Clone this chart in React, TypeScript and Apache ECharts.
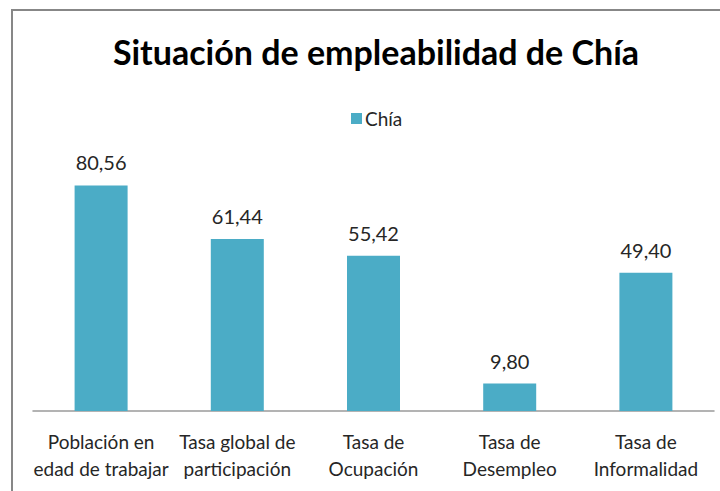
import React, { useEffect, useRef } from "react";
import * as echarts from "echarts";

const categories = [
  "Población en\nedad de trabajar",
  "Tasa global de\nparticipación",
  "Tasa de\nOcupación",
  "Tasa de\nDesempleo",
  "Tasa de\nInformalidad",
];
const values = [80.56, 61.44, 55.42, 9.8, 49.4];
const seriesName = "Chía";
const titleText = "Situación de empleabilidad de Chía";

const FONT = "Lato, 'Liberation Sans', sans-serif";

export default function App() {
  const ref = useRef<HTMLDivElement>(null);
  useEffect(() => {
    if (!ref.current) return;
    const chart = echarts.init(ref.current, undefined, { renderer: "svg" });
    chart.setOption({
      animation: false,
      backgroundColor: "#ffffff",
      title: {
        text: titleText,
        left: 371,
        textAlign: "center",
        top: 29,
        textStyle: { fontFamily: FONT, fontWeight: "bold", fontSize: 34, color: "#000000" },
      },
      legend: {
        data: [seriesName],
        left: 346,
        top: 104,
        icon: "rect",
        itemWidth: 11,
        itemHeight: 11,
        itemGap: 4,
        textStyle: { fontFamily: FONT, fontSize: 19, color: "#262626", padding: [0, 0, 0, -2] },
      },
      graphic: [
        {
          type: "rect",
          shape: { x: 12, y: 10, width: 800, height: 600 },
          style: { fill: "none", stroke: "#878787", lineWidth: 2 },
          silent: true,
        },
      ],
      grid: { left: 33, right: 6, top: 131, bottom: 80 },
      xAxis: {
        type: "category",
        data: categories,
        axisLine: { lineStyle: { color: "#9a9a9a", width: 1.5 } },
        axisTick: { show: false },
        axisLabel: {
          fontFamily: FONT,
          fontSize: 19,
          color: "#262626",
          lineHeight: 27,
          margin: 17,
          interval: 0,
        },
      },
      yAxis: {
        type: "value",
        min: 0,
        max: 100,
        show: false,
        splitLine: { show: false },
      },
      series: [
        {
          name: seriesName,
          type: "bar",
          data: values,
          barWidth: 53,
          itemStyle: { color: "#4BACC6" },
          label: {
            show: true,
            position: "top",
            distance: 13,
            fontFamily: FONT,
            fontSize: 20,
            color: "#262626",
            formatter: (p: any) => p.value.toFixed(2).replace(".", ","),
          },
        },
      ],
    });
    return () => chart.dispose();
  }, []);
  return (
    <div
      ref={ref}
      style={{ position: "absolute", left: 0, top: 0, width: 720, height: 491 }}
    />
  );
}
